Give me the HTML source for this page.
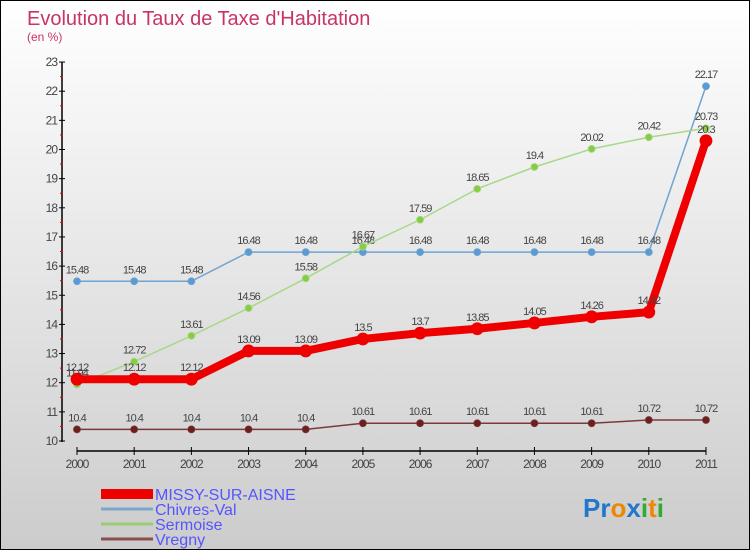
<!DOCTYPE html>
<html><head><meta charset="utf-8"><style>
body{margin:0;}
#c{width:750px;height:550px;position:relative;box-sizing:border-box;border:1px solid #000;background:linear-gradient(#fff,#ccc);font-family:"Liberation Sans",sans-serif;overflow:hidden}
</style></head><body>
<div id="c">
<svg width="750" height="550" id="s" style="position:absolute;left:0;top:0">
<text x="26" y="24" font-size="20" fill="#c8336a">Evolution du Taux de Taxe d'Habitation</text>
<text x="26" y="40" font-size="12" fill="#c8336a">(en %)</text>
<g id="g"></g>
<g font-size="16" fill="#5555ff">
<rect x="100" y="488" width="52" height="10" fill="#e00"/>
<text x="154" y="499">MISSY-SUR-AISNE</text>
<line x1="100" y1="508" x2="152" y2="508" stroke="#7aa8cc" stroke-width="3"/>
<text x="154" y="514">Chivres-Val</text>
<line x1="100" y1="523" x2="152" y2="523" stroke="#99cc77" stroke-width="3"/>
<text x="154" y="529">Sermoise</text>
<line x1="100" y1="538" x2="152" y2="538" stroke="#8a5050" stroke-width="3"/>
<text x="154" y="544">Vregny</text>
</g>
<text x="582" y="516" font-size="26" font-weight="bold"><tspan fill="#2277cc">Pr</tspan><tspan fill="#ee8800">o</tspan><tspan fill="#2277cc">x</tspan><tspan fill="#33aa33">i</tspan><tspan fill="#ee8800">t</tspan><tspan fill="#33aa33">i</tspan></text>
</svg>
</div>
<script>
const years=[2000,2001,2002,2003,2004,2005,2006,2007,2008,2009,2010,2011];
const missy=[12.12,12.12,12.12,13.09,13.09,13.5,13.7,13.85,14.05,14.26,14.42,20.3];
const chivres=[15.48,15.48,15.48,16.48,16.48,16.48,16.48,16.48,16.48,16.48,16.48,22.17];
const sermoise=[11.94,12.72,13.61,14.56,15.58,16.67,17.59,18.65,19.4,20.02,20.42,20.73];
const vregny=[10.4,10.4,10.4,10.4,10.4,10.61,10.61,10.61,10.61,10.61,10.72,10.72];
const yTicks=[10,11,12,13,14,15,16,17,18,19,20,21,22,23];
const X=i=>76+i*57.18, Y=v=>440-(v-10)*29.15;
const g=document.getElementById('g'),NS='http://www.w3.org/2000/svg';
function mk(t,a,p){const e=document.createElementNS(NS,t);for(const k in a)e.setAttribute(k,a[k]);(p||g).appendChild(e);return e;}
let ax=mk('line',{x1:61,y1:Y(23),x2:61,y2:441,stroke:'#000','stroke-width':1.5});


let xa=mk('line',{x1:X(0),y1:450,x2:X(11),y2:450,stroke:'#000','stroke-width':1.5});


yTicks.forEach(v=>{mk('line',{x1:58,y1:Y(v),x2:64,y2:Y(v),stroke:'#000'});
 if(v<23)mk('line',{x1:59,y1:Y(v+.5),x2:62,y2:Y(v+.5),stroke:'#e00'});
 const t=mk('text',{x:56,y:Y(v)+4,'text-anchor':'end','font-size':12,fill:'#444','letter-spacing':'-1'});t.textContent=v;
 
 });
years.forEach((y,i)=>{mk('line',{x1:X(i),y1:446,x2:X(i),y2:454,stroke:'#000'});
 const t=mk('text',{x:X(i),y:467,'text-anchor':'middle','font-size':12,fill:'#444','letter-spacing':'-1'});t.textContent=y;
 
 });
function series(d,col,w,r,name,dot){
 const p=mk('polyline',{points:d.map((v,i)=>X(i)+','+Y(v)).join(' '),fill:'none',stroke:col,'stroke-width':w,'stroke-linejoin':'round'});
 
 
 d.forEach((v,i)=>{const c=mk('circle',{cx:X(i),cy:Y(v),r:r,fill:dot,stroke:col,'stroke-width':0.8});
  
  
  const t=mk('text',{x:X(i),y:Y(v)-8,'text-anchor':'middle','font-size':11,fill:'#444','letter-spacing':'-1'});t.textContent=v;
  
  });
}
series(vregny,'#7a3a3a',1.5,3.5,'vregny','#6b1f1f');
series(chivres,'#6fa3d0',1.5,3.5,'chivres','#5b9bd5');
series(sermoise,'#a8d888',1.5,3.5,'sermoise','#88cc44');
series(missy,'#ee0000',8,6,'missy','#ee0000');
</script>
</body></html>
